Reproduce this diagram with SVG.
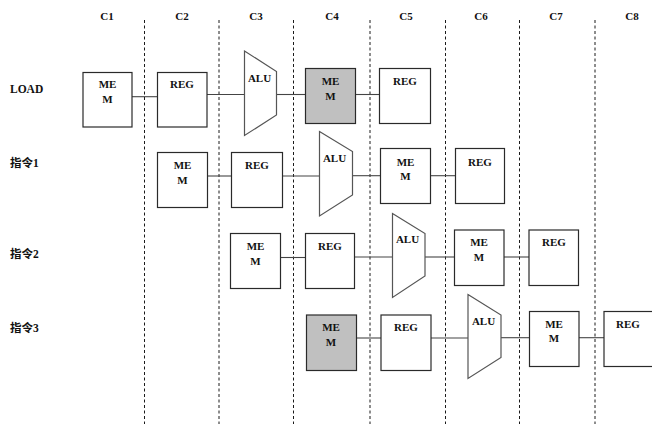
<svg xmlns="http://www.w3.org/2000/svg" width="652" height="424" viewBox="0 0 652 424">
<style>
  .bg{fill:#ffffff}
  .grid{stroke:#1a1a1a;stroke-width:1;stroke-dasharray:3,2.5;fill:none}
  .box{fill:#ffffff;stroke:#2a2a2a;stroke-width:1.2}
  .shade{fill:#c0c0c0;stroke:#2a2a2a;stroke-width:1.2}
  .alu{fill:#ffffff;stroke:#555555;stroke-width:1.2}
  .wire{stroke:#444444;stroke-width:1.1;fill:none}
  .t{font-family:"Liberation Serif","Noto Sans CJK SC",serif;font-weight:bold;font-size:11px;fill:#111;text-anchor:middle}
  .lbl{font-family:"Liberation Serif","Noto Sans CJK SC",serif;font-weight:bold;font-size:11.5px;fill:#111;text-anchor:start}
</style>
<rect class="bg" x="0" y="0" width="652" height="424"/>

<g id="grid">
  <line class="grid" x1="144.5" y1="20" x2="144.5" y2="424"/>
  <line class="grid" x1="219" y1="20" x2="219" y2="424"/>
  <line class="grid" x1="293.5" y1="20" x2="293.5" y2="424"/>
  <line class="grid" x1="370" y1="20" x2="370" y2="424"/>
  <line class="grid" x1="445.5" y1="20" x2="445.5" y2="424"/>
  <line class="grid" x1="519.5" y1="20" x2="519.5" y2="424"/>
  <line class="grid" x1="595" y1="20" x2="595" y2="424"/>
</g>

<g id="column-labels">
  <text class="t" x="107" y="20">C1</text>
  <text class="t" x="182" y="20">C2</text>
  <text class="t" x="256" y="20">C3</text>
  <text class="t" x="332" y="20">C4</text>
  <text class="t" x="406" y="20">C5</text>
  <text class="t" x="481" y="20">C6</text>
  <text class="t" x="556" y="20">C7</text>
  <text class="t" x="632" y="20">C8</text>
</g>

<g id="row-labels">
  <text class="lbl" x="10" y="92.5">LOAD</text>
  <text class="lbl" x="10" y="166.5">指令1</text>
  <text class="lbl" x="10" y="258">指令2</text>
  <text class="lbl" x="10" y="331.5">指令3</text>
</g>

<g id="connectors">
  <line class="wire" x1="132" y1="96.7" x2="157.5" y2="96.7"/>
  <line class="wire" x1="207" y1="94.5" x2="244.5" y2="94.5"/>
  <line class="wire" x1="276.5" y1="94.5" x2="305.5" y2="94.5"/>
  <line class="wire" x1="355.5" y1="94.5" x2="379.5" y2="94.5"/>

  <line class="wire" x1="207.5" y1="176" x2="231.5" y2="176"/>
  <line class="wire" x1="282.5" y1="176" x2="319.5" y2="176"/>
  <line class="wire" x1="352.5" y1="175.7" x2="380.5" y2="175.7"/>
  <line class="wire" x1="430.5" y1="175.7" x2="455.5" y2="175.7"/>

  <line class="wire" x1="280.5" y1="257.5" x2="305.5" y2="257.5"/>
  <line class="wire" x1="354.5" y1="257" x2="392.5" y2="257"/>
  <line class="wire" x1="425" y1="257" x2="454.5" y2="257"/>
  <line class="wire" x1="504" y1="257" x2="529" y2="257"/>

  <line class="wire" x1="356.5" y1="338" x2="381" y2="338"/>
  <line class="wire" x1="431" y1="338" x2="468" y2="338"/>
  <line class="wire" x1="501" y1="337.7" x2="529.5" y2="337.7"/>
  <line class="wire" x1="579" y1="337.7" x2="604" y2="337.7"/>
</g>

<!-- LOAD row -->
<g id="load-mem">
  <rect class="box" x="83" y="72.5" width="49" height="54.5"/>
  <text class="t" x="107.5" y="88">ME</text>
  <text class="t" x="107.5" y="103">M</text>
</g>
<g id="load-reg1">
  <rect class="box" x="157.5" y="72.5" width="49.5" height="54.5"/>
  <text class="t" x="182" y="88">REG</text>
</g>
<g id="load-alu">
  <polygon class="alu" points="244.5,51 276.5,71.5 276.5,115 244.5,135.5"/>
  <text class="t" x="259.5" y="82">ALU</text>
</g>
<g id="load-mem2">
  <rect class="shade" x="305.5" y="68.5" width="50" height="55"/>
  <text class="t" x="330.5" y="85">ME</text>
  <text class="t" x="330.5" y="100">M</text>
</g>
<g id="load-reg2">
  <rect class="box" x="379.5" y="68.5" width="51" height="55"/>
  <text class="t" x="405" y="85">REG</text>
</g>

<!-- 指令1 row -->
<g id="i1-mem">
  <rect class="box" x="157.5" y="152.5" width="50" height="55"/>
  <text class="t" x="182.5" y="169">ME</text>
  <text class="t" x="182.5" y="184">M</text>
</g>
<g id="i1-reg1">
  <rect class="box" x="231.5" y="152.5" width="51" height="55"/>
  <text class="t" x="257" y="169">REG</text>
</g>
<g id="i1-alu">
  <polygon class="alu" points="319.5,131.5 352.5,151.5 352.5,195 319.5,216"/>
  <text class="t" x="334.5" y="161.7">ALU</text>
</g>
<g id="i1-mem2">
  <rect class="box" x="380.5" y="148.5" width="50" height="55"/>
  <text class="t" x="405.5" y="165.5">ME</text>
  <text class="t" x="405.5" y="180">M</text>
</g>
<g id="i1-reg2">
  <rect class="box" x="455.5" y="148.5" width="49" height="55"/>
  <text class="t" x="480" y="165.5">REG</text>
</g>

<!-- 指令2 row -->
<g id="i2-mem">
  <rect class="box" x="230.5" y="233.5" width="50" height="55"/>
  <text class="t" x="255.5" y="250">ME</text>
  <text class="t" x="255.5" y="265">M</text>
</g>
<g id="i2-reg1">
  <rect class="box" x="305.5" y="233.5" width="49" height="55"/>
  <text class="t" x="330" y="249.5">REG</text>
</g>
<g id="i2-alu">
  <polygon class="alu" points="392.5,213.5 425,233.5 425,276 392.5,297.5"/>
  <text class="t" x="407.5" y="243">ALU</text>
</g>
<g id="i2-mem2">
  <rect class="box" x="454.5" y="230" width="49.5" height="55.5"/>
  <text class="t" x="479" y="246">ME</text>
  <text class="t" x="479" y="261">M</text>
</g>
<g id="i2-reg2">
  <rect class="box" x="529" y="230" width="49.5" height="55.5"/>
  <text class="t" x="554" y="246">REG</text>
</g>

<!-- 指令3 row -->
<g id="i3-mem">
  <rect class="shade" x="306.5" y="315" width="50" height="55.5"/>
  <text class="t" x="331" y="331">ME</text>
  <text class="t" x="331" y="346">M</text>
</g>
<g id="i3-reg1">
  <rect class="box" x="381" y="315" width="50" height="55.5"/>
  <text class="t" x="406" y="331">REG</text>
</g>
<g id="i3-alu">
  <polygon class="alu" points="468,294.5 501,315 501,357.5 468,378.5"/>
  <text class="t" x="483.5" y="325">ALU</text>
</g>
<g id="i3-mem2">
  <rect class="box" x="529.5" y="311.5" width="49.5" height="55"/>
  <text class="t" x="554" y="327.7">ME</text>
  <text class="t" x="554" y="342.3">M</text>
</g>
<g id="i3-reg2">
  <rect class="box" x="604" y="311.5" width="50" height="55"/>
  <text class="t" x="628" y="327.7">REG</text>
</g>
</svg>
